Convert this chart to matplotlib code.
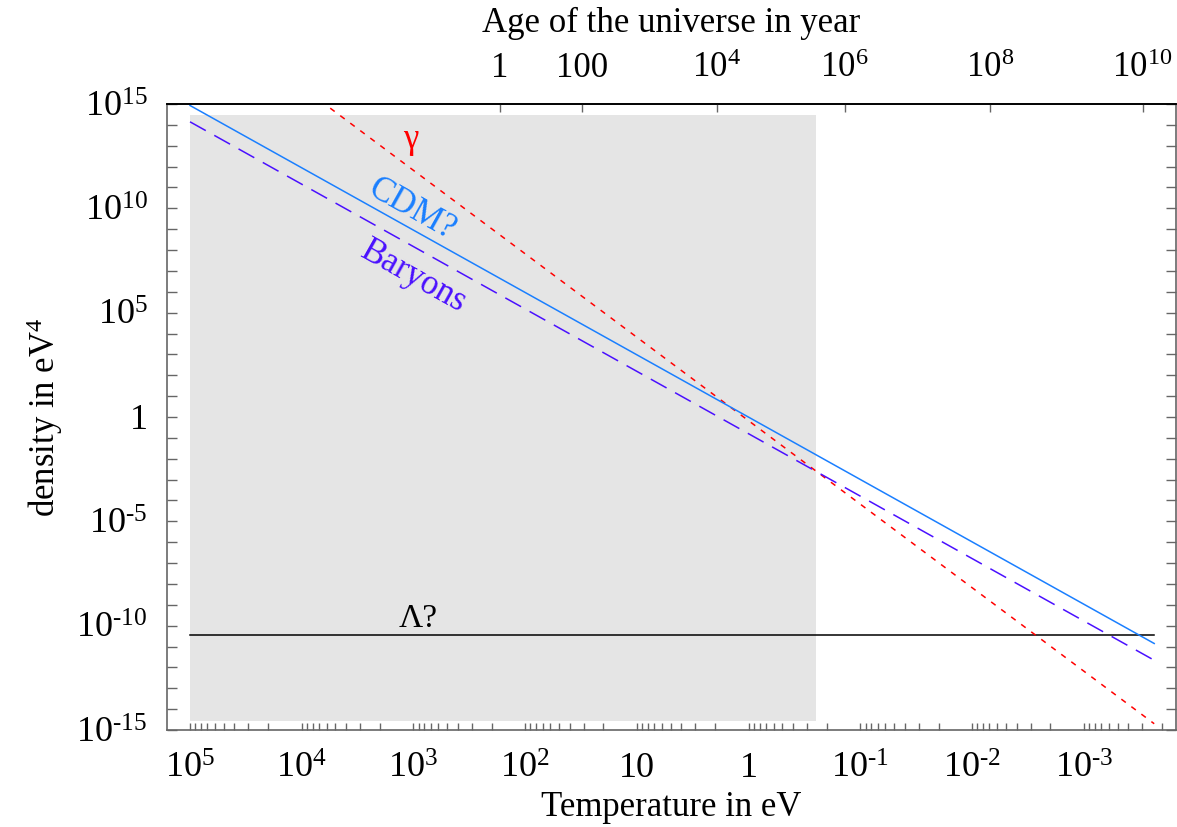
import numpy as np
import matplotlib
matplotlib.use('Agg')
import matplotlib.pyplot as plt
from matplotlib.ticker import FixedLocator, NullLocator, FixedFormatter, NullFormatter

plt.rcParams['font.family'] = ['Liberation Serif', 'DejaVu Serif']
plt.rcParams['mathtext.fontset'] = 'custom'
plt.rcParams['mathtext.rm'] = 'Liberation Serif'
plt.rcParams['mathtext.it'] = 'Liberation Serif:italic'
plt.rcParams['mathtext.bf'] = 'Liberation Serif:bold'
plt.rcParams['lines.scale_dashes'] = False

# ---------------- data ----------------
T_ends = [1e5, 2.35e-4]                 # temperature range of the curves (eV)
cdm_density = [8.5e14, 1.4e-11]         # eV^4
baryon_density = [1.4e14, 2.2e-12]
photon_density = [6.6e19, 2.0e-15]
lambda_density = [3.7e-11, 3.7e-11]

shade_T = [1e5, 0.25]
shade_density = [10**-14.55, 10**14.47]

x_ticks = [1e5, 1e4, 1e3, 1e2, 1e1, 1e0, 1e-1, 1e-2, 1e-3]
x_labels = ['$10^{5}$', '$10^{4}$', '$10^{3}$', '$10^{2}$', '10', '1',
            '$10^{\\text{-}1}$', '$10^{\\text{-}2}$', '$10^{\\text{-}3}$']
y_major = [1e15, 1e10, 1e5, 1e0, 1e-5, 1e-10, 1e-15]
y_labels = ['$10^{15}$', '$10^{10}$', '$10^{5}$', '1',
            '$10^{\\text{-}5}$', '$10^{\\text{-}10}$', '$10^{\\text{-}15}$']
age_tick_T = [10**2.225, 10**1.493, 10**0.285, 10**-0.859, 10**-2.157, 10**-3.525]
age_labels = ['1', '100', '$10^{4}$', '$10^{6}$', '$10^{8}$', '$10^{10}$']

# ---------------- figure ----------------
fig = plt.figure(figsize=(11.77, 8.27), dpi=100)
ax = fig.add_axes([167/1177, 1 - 730/827, (1176 - 167)/1177, (730 - 104)/827])
ax.set_xscale('log')
ax.set_yscale('log')
ax.set_xlim(10**5.206, 10**-3.824)
ax.set_ylim(1e-15, 1e15)

ax.fill_between(shade_T, shade_density[0], shade_density[1], color='#e5e5e5', lw=0, zorder=0)

ax.plot(T_ends, lambda_density, color='black', lw=1.1, zorder=3)
ax.plot(T_ends, photon_density, color='#ff0000', lw=1.1, linestyle=(0, (4, 5)), zorder=3)
ax.plot(T_ends, baryon_density, color='#4a10ff', lw=1.1, linestyle=(0, (13, 7)), zorder=3)
ax.plot(T_ends, cdm_density, color='#1a7fff', lw=1.1, zorder=4)

ang = -29.3
ax.text(1070, 10**13.3, 'γ', color='#ff0000', fontsize=25, ha='center', va='center')
ax.text(1040, 10**9.95, 'CDM?', color='#1a7fff', fontsize=25, ha='center', va='center',
        rotation=ang, rotation_mode='anchor')
ax.text(1000, 10**6.7, 'Baryons', color='#4a10ff', fontsize=25, ha='center', va='center',
        rotation=ang, rotation_mode='anchor')
ax.text(910, 10**-9.65, 'Λ?', color='black', fontsize=24, ha='center', va='center')

# axes styling
gray = '#666666'
for s in ['left', 'bottom', 'right']:
    ax.spines[s].set_color(gray)
    ax.spines[s].set_linewidth(1.2)
ax.spines['top'].set_color('black')
ax.spines['top'].set_linewidth(1.2)

ax.xaxis.set_major_locator(FixedLocator(x_ticks))
ax.xaxis.set_major_formatter(FixedFormatter(x_labels))
minor_x = []
for d in range(-4, 5):
    for k in range(2, 10):
        minor_x.append(k * 10.0**d)
ax.xaxis.set_minor_locator(FixedLocator(minor_x))
ax.xaxis.set_minor_formatter(NullFormatter())
ax.tick_params(axis='x', which='both', direction='in', length=5, width=1, color=gray,
               labelsize=26, pad=16, top=False)
ax.yaxis.set_major_locator(FixedLocator(y_major))
ax.yaxis.set_major_formatter(FixedFormatter(y_labels))
ax.yaxis.set_minor_locator(FixedLocator([10.0**k for k in range(-15, 16) if k % 5 != 0]))
ax.yaxis.set_minor_formatter(NullFormatter())
ax.tick_params(axis='y', which='both', direction='in', length=7, width=1, color=gray,
               labelsize=26, pad=14, left=True, right=True)

ax.set_xlabel('Temperature in eV', fontsize=25, labelpad=4)
ax.set_ylabel('density in eV$^{4}$', fontsize=25, labelpad=8)

# top axis: age of the universe
ax2 = ax.twiny()
ax2.set_xscale('log')
ax2.set_xlim(ax.get_xlim())
ax2.xaxis.set_major_locator(FixedLocator(age_tick_T))
ax2.xaxis.set_major_formatter(FixedFormatter(age_labels))
ax2.xaxis.set_minor_locator(NullLocator())
ax2.xaxis.set_minor_formatter(NullFormatter())
ax2.tick_params(axis='x', which='both', direction='in', length=6, width=1, color=gray,
                labelsize=25, pad=14)
for s in ['left', 'bottom', 'right']:
    ax2.spines[s].set_visible(False)
ax2.spines['top'].set_color('black')
ax2.spines['top'].set_linewidth(1.2)
ax2.set_xlabel('Age of the universe in year', fontsize=25, labelpad=14)

fig.savefig('out.png', dpi=100)
